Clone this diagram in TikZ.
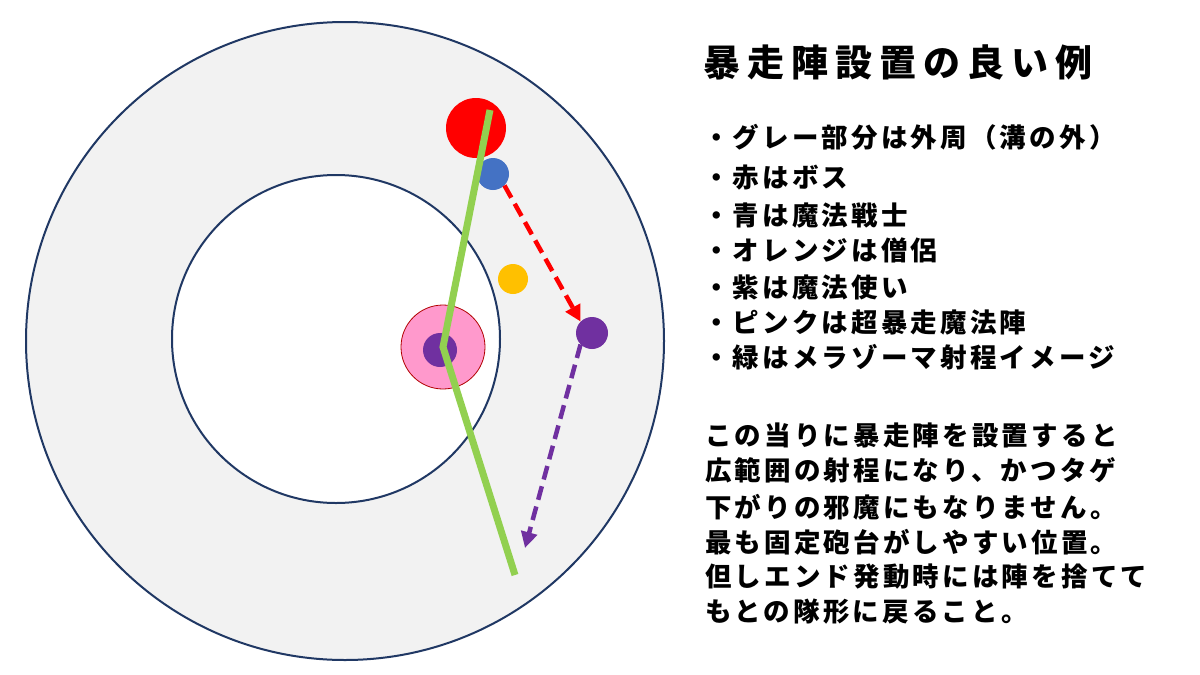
\documentclass[tikz,border=0pt]{standalone}
\usepackage{fontspec}
\newfontfamily\cjk[LetterSpace=12]{Noto Sans CJK JP}
\newfontfamily\cjkt[LetterSpace=19]{Noto Sans CJK JP}
\usetikzlibrary{arrows.meta}
\definecolor{ringc}{RGB}{32,56,100}
\definecolor{greyfill}{RGB}{242,242,242}
\definecolor{greenl}{RGB}{146,208,80}
\definecolor{purp}{RGB}{112,48,160}
\definecolor{bluec}{RGB}{68,114,196}
\definecolor{pinkc}{RGB}{255,153,204}
\definecolor{goldc}{RGB}{255,192,0}
\tikzset{txt/.style={anchor=west,inner sep=0pt,font=\cjk\bfseries\fontsize{26.5}{30}\selectfont},
dot/.style={circle,inner sep=0pt}}
\begin{document}
\begin{tikzpicture}[x=1pt,y=-1pt]
\useasboundingbox (0,0) rectangle (1200,675);
\fill[white] (0,0) rectangle (1200,675);
\draw[ringc,line width=2pt,fill=greyfill] (345,341) circle (319);
\draw[ringc,line width=2pt,fill=white] (336,339) circle (164);
\node[dot,fill=red,minimum size=60pt] (boss) at (476,128) {};
\node[dot,fill=bluec,minimum size=32pt] (blue) at (493,174) {};
\node[dot,fill=goldc,minimum size=30pt] (orange) at (513,279) {};
\node[dot,fill=pinkc,draw=red!70!black,line width=0.8pt,minimum size=84pt] (pink) at (443,347) {};
\node[dot,fill=purp,minimum size=34pt] (p1) at (440,350) {};
\node[dot,fill=purp,minimum size=32pt] (p2) at (592,333) {};
\coordinate (g1) at (490,110);
\coordinate (g2) at (443,347);
\coordinate (g3) at (515,575);
\draw[greenl,line width=7pt] (g1) -- (g2) -- (g3);
\coordinate (pe) at (525,548);
\draw[red,line width=4.5pt,dash pattern=on 14pt off 7pt,-{Triangle[length=16pt,width=16pt]}] (blue.south east) -- (p2.north west);
\draw[purp,line width=4.5pt,dash pattern=on 14pt off 7pt,-{Triangle[length=16pt,width=16pt]}] (p2.south west) -- (pe);
\node[anchor=west,inner sep=0pt,font=\cjkt\bfseries\fontsize{37}{40}\selectfont] (title) at (703,62) {暴走陣設置の良い例};
\node[txt] (l1) at (703,137) {・グレー部分は外周（溝の外）};
\node[txt] (l2) at (703,178) {・赤はボス};
\node[txt] (l3) at (703,215) {・青は魔法戦士};
\node[txt] (l4) at (703,250) {・オレンジは僧侶};
\node[txt] (l5) at (703,287) {・紫は魔法使い};
\node[txt] (l6) at (703,322) {・ピンクは超暴走魔法陣};
\node[txt] (l7) at (703,357) {・緑はメラゾーマ射程イメージ};
\node[txt] (p1t) at (705,435) {この当りに暴走陣を設置すると};
\node[txt] (p2t) at (705,470) {広範囲の射程になり、かつタゲ};
\node[txt] (p3t) at (705,507) {下がりの邪魔にもなりません。};
\node[txt] (p4t) at (705,542) {最も固定砲台がしやすい位置。};
\node[txt] (p5t) at (705,577) {但しエンド発動時には陣を捨てて};
\node[txt] (p6t) at (705,612) {もとの隊形に戻ること。};
\end{tikzpicture}
\end{document}
